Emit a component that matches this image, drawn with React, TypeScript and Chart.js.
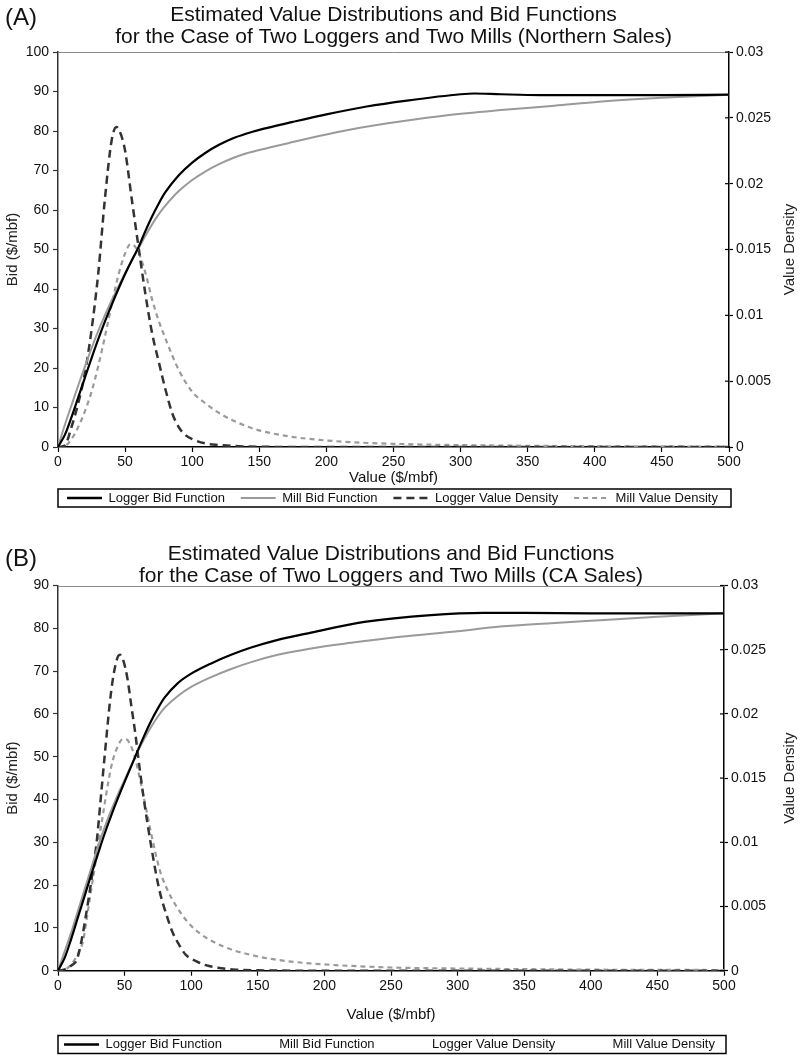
import React, { useEffect, useRef } from "react";
import { Chart, registerables } from "chart.js";
Chart.register(...registerables);

const FONT = "'Liberation Sans', Arial, Helvetica, sans-serif";

// ---------- Panel A (Northern Sales) ----------
const A_TITLE = [
  "Estimated Value Distributions and Bid Functions",
  "for the Case of Two Loggers and Two Mills (Northern Sales)",
];
const A_LOGGER_BID_X = [0, 5, 10, 15, 20, 25, 30, 35, 40, 45, 50, 55, 60, 65, 70, 75, 80, 90, 100, 110, 120, 130, 140, 150, 175, 200, 230, 260, 300, 310, 330, 360, 400, 450, 500];
const A_LOGGER_BID_Y = [0, 3, 7.5, 12.5, 17.5, 22.5, 27.3, 31.8, 36, 40, 43.8, 47.3, 50.6, 54.6, 58.3, 61.6, 64.5, 68.8, 72, 74.5, 76.5, 78.1, 79.3, 80.3, 82.3, 84.2, 86.2, 87.7, 89.3, 89.5, 89.3, 89.1, 89.1, 89.1, 89.2];
const A_MILL_BID_X = [0, 5, 10, 15, 20, 25, 30, 35, 40, 45, 50, 55, 60, 65, 70, 75, 80, 90, 100, 110, 120, 130, 140, 150, 175, 200, 225, 255, 290, 330, 370, 403, 450, 500];
const A_MILL_BID_Y = [0, 5.5, 10.5, 15.5, 20.3, 25, 29.4, 33.4, 37.1, 40.6, 44, 47.2, 50.3, 53.4, 56.3, 58.9, 61.1, 64.8, 67.6, 69.8, 71.6, 73.1, 74.3, 75.2, 77.2, 79.1, 80.8, 82.4, 84, 85.3, 86.4, 87.4, 88.4, 89.2];
const A_LOGGER_DEN_X = [0, 5, 10, 15, 20, 25, 30, 35, 40, 43.5, 47, 50, 55, 60, 65, 70, 75, 80, 85, 90, 95, 100, 110, 120, 130, 150, 200, 300, 400, 500];
const A_LOGGER_DEN_Y = [0, 0.0001, 0.0015, 0.0033, 0.0056, 0.0089, 0.0132, 0.0189, 0.0233, 0.0243, 0.0237, 0.0225, 0.0188, 0.0152, 0.0117, 0.0087, 0.0065, 0.0044, 0.0026, 0.0015, 0.0009, 0.0006, 0.00027, 0.00015, 0.00008, 0.00002, 0, 0, 0, 0];
const A_MILL_DEN_X = [0, 5, 10, 15, 20, 25, 30, 35, 40, 45, 50, 54, 58, 62, 66, 70, 75, 80, 90, 100, 110, 120, 130, 145, 170, 195, 220, 245, 295, 350, 400, 450, 500];
const A_MILL_DEN_Y = [0, 0.00006, 0.0006, 0.0015, 0.0027, 0.0042, 0.00615, 0.0084, 0.0108, 0.01305, 0.0147, 0.0154, 0.01515, 0.01425, 0.0129, 0.01125, 0.0096, 0.00825, 0.00585, 0.0042, 0.0033, 0.00258, 0.00204, 0.00141, 0.00084, 0.00054, 0.00036, 0.000255, 0.00015, 0.00009, 0.00006, 0.000045, 0.00003];

// ---------- Panel B (CA Sales) ----------
const B_TITLE = [
  "Estimated Value Distributions and Bid Functions",
  "for the Case of Two Loggers and Two Mills (CA Sales)",
];
const B_LOGGER_BID_X = [0, 5, 10, 15, 20, 25, 30, 35, 40, 45, 50, 55, 60, 65, 70, 75, 80, 90, 100, 115, 130, 145, 165, 190, 230, 280, 320, 350, 400, 450, 500];
const B_LOGGER_BID_Y = [0, 3, 7.5, 12.5, 17.5, 22.5, 27.3, 32, 36.3, 40.3, 44.1, 47.8, 51.5, 55.1, 58.4, 61.3, 63.8, 67.2, 69.4, 71.8, 73.8, 75.5, 77.3, 79, 81.5, 83.1, 83.6, 83.6, 83.5, 83.5, 83.5];
const B_MILL_BID_X = [0, 5, 10, 15, 20, 25, 30, 35, 40, 45, 50, 55, 60, 65, 70, 75, 80, 90, 100, 115, 130, 145, 165, 190, 220, 257, 300, 332, 370, 407, 450, 500];
const B_MILL_BID_Y = [0, 4.5, 9, 14, 19, 24, 29, 33.5, 37.5, 41.2, 44.6, 48, 51.3, 54.3, 57, 59.4, 61.4, 64.2, 66.3, 68.6, 70.5, 72.1, 73.8, 75.3, 76.6, 78, 79.3, 80.4, 81.2, 81.9, 82.7, 83.5];
const B_LOGGER_DEN_X = [0, 5, 10, 14, 17, 21, 25, 29, 32, 35, 40, 44, 46.5, 49, 52, 55, 58, 61, 64, 70, 76, 82, 86, 91, 96, 104, 111, 120, 131, 150, 200, 300, 400, 500];
const B_LOGGER_DEN_Y = [0, 0.0001, 0.0004, 0.00083, 0.002, 0.00433, 0.007, 0.01, 0.0133, 0.0167, 0.02183, 0.02417, 0.0246, 0.02417, 0.02283, 0.02067, 0.0185, 0.016, 0.01367, 0.00967, 0.00633, 0.00417, 0.003, 0.002, 0.00123, 0.00073, 0.00043, 0.00023, 0.0001, 0.00003, 0, 0, 0, 0];
const B_MILL_DEN_X = [0, 5, 10, 15, 19, 22, 26, 30, 34, 38, 41, 45, 48, 51, 54, 57.6, 61, 66.4, 71, 76.4, 82, 89, 97, 106.5, 118, 131.5, 145, 156.6, 170, 189, 220, 250, 300, 350, 400, 450, 500];
const B_MILL_DEN_Y = [0, 0.00007, 0.0005, 0.00133, 0.0024, 0.00433, 0.007, 0.00967, 0.01233, 0.01483, 0.01633, 0.0175, 0.018, 0.01803, 0.01767, 0.01667, 0.01517, 0.0125, 0.01017, 0.00783, 0.00633, 0.005, 0.00383, 0.0029, 0.00217, 0.0016, 0.00123, 0.00097, 0.00077, 0.00057, 0.00037, 0.00025, 0.00017, 0.00012, 0.00008, 0.00007, 0.00005];

const SERIES_LABELS = ["Logger Bid Function", "Mill Bid Function", "Logger Value Density", "Mill Value Density"];
const X_AXIS_TITLE = "Value ($/mbf)";
const Y_AXIS_TITLE = "Bid ($/mbf)";
const Y1_AXIS_TITLE = "Value Density";

const LEGEND_FONT = 13;

type Spec = {
  letter: string;
  title: string[];
  lbx: number[]; lby: number[];
  mbx: number[]; mby: number[];
  ldx: number[]; ldy: number[];
  mdx: number[]; mdy: number[];
  yMax: number;
  top: number; height: number;
  areaTop: number; rightW: number; padRight: number; xH: number; padBottom: number;
  xTitlePad: number;
  letterY: number; titleY: number[];
  hideSamples: boolean;
};

const SPEC_A: Spec = {
  letter: "(A)", title: A_TITLE,
  lbx: A_LOGGER_BID_X, lby: A_LOGGER_BID_Y, mbx: A_MILL_BID_X, mby: A_MILL_BID_Y,
  ldx: A_LOGGER_DEN_X, ldy: A_LOGGER_DEN_Y, mdx: A_MILL_DEN_X, mdy: A_MILL_DEN_Y,
  yMax: 100, top: 0, height: 530,
  areaTop: 52, rightW: 56, padRight: 16, xH: 39.5, padBottom: 15.5, xTitlePad: 0,
  letterY: 18, titleY: [15, 37], hideSamples: false,
};
const SPEC_B: Spec = {
  letter: "(B)", title: B_TITLE,
  lbx: B_LOGGER_BID_X, lby: B_LOGGER_BID_Y, mbx: B_MILL_BID_X, mby: B_MILL_BID_Y,
  ldx: B_LOGGER_DEN_X, ldy: B_LOGGER_DEN_Y, mdx: B_MILL_DEN_X, mdy: B_MILL_DEN_Y,
  yMax: 90, top: 527, height: 534,
  areaTop: 58.5, rightW: 55, padRight: 22, xH: 62.3, padBottom: 0, xTitlePad: 9.5,
  letterY: 32, titleY: [27, 49], hideSamples: true,
};

const pts = (xs: number[], ys: number[]) => xs.map((x, i) => ({ x, y: ys[i] }));

function decoPlugin(s: Spec) {
  return {
    id: "deco",
    afterDraw(chart: any) {
      const { ctx, chartArea: ca } = chart;
      ctx.save();
      // top frame line
      ctx.strokeStyle = "#8a8a8a";
      ctx.lineWidth = 1;
      ctx.beginPath();
      ctx.moveTo(ca.left, Math.round(ca.top) + 0.5);
      ctx.lineTo(ca.right, Math.round(ca.top) + 0.5);
      ctx.stroke();
      // inner ticks on right axis
      const y1 = chart.scales.y1;
      ctx.strokeStyle = "#000";
      ctx.lineWidth = 1.2;
      y1.ticks.forEach((t: any) => {
        const py = y1.getPixelForValue(t.value);
        ctx.beginPath();
        ctx.moveTo(ca.right - 4, py);
        ctx.lineTo(ca.right, py);
        ctx.stroke();
      });
      // panel letter
      ctx.fillStyle = "#111";
      ctx.textBaseline = "middle";
      ctx.textAlign = "left";
      ctx.font = `24px ${FONT}`;
      ctx.fillText(s.letter, 5, s.letterY);
      // title
      ctx.textAlign = "center";
      ctx.font = `21px ${FONT}`;
      const cx = (ca.left + ca.right) / 2;
      s.title.forEach((line, i) => ctx.fillText(line, cx, s.titleY[i]));
      // right axis title, reading bottom-to-top
      ctx.save();
      ctx.translate(790, (ca.top + ca.bottom) / 2);
      ctx.rotate(-Math.PI / 2);
      ctx.font = `15px ${FONT}`;
      ctx.fillStyle = "#222";
      ctx.fillText(Y1_AXIS_TITLE, 0, 0);
      ctx.restore();
      // legend frame
      const lg = chart.legend;
      const cy = lg.top + lg.options.labels.padding + LEGEND_FONT / 2;
      ctx.strokeStyle = "#000";
      ctx.lineWidth = 1.5;
      ctx.strokeRect(ca.left, cy - 9, ca.right + 2 - ca.left, 18);
      ctx.restore();
    },
  };
}

function buildConfig(s: Spec): any {
  const common = { pointRadius: 0, pointHoverRadius: 0, pointStyle: "line", cubicInterpolationMode: "monotone", fill: false };
  return {
    type: "line",
    data: {
      datasets: [
        { ...common, label: SERIES_LABELS[0], data: pts(s.lbx, s.lby), yAxisID: "y", borderColor: "#000", backgroundColor: "#000", borderWidth: 2.2 },
        { ...common, label: SERIES_LABELS[1], data: pts(s.mbx, s.mby), yAxisID: "y", borderColor: "#9a9a9a", backgroundColor: "#9a9a9a", borderWidth: 2 },
        { ...common, label: SERIES_LABELS[2], data: pts(s.ldx, s.ldy), yAxisID: "y1", borderColor: "#333", backgroundColor: "#333", borderWidth: 2.5, borderDash: [8, 5] },
        { ...common, label: SERIES_LABELS[3], data: pts(s.mdx, s.mdy), yAxisID: "y1", borderColor: "#9a9a9a", backgroundColor: "#9a9a9a", borderWidth: 2.2, borderDash: [5, 4] },
      ],
    },
    options: {
      responsive: false,
      animation: false,
      devicePixelRatio: 1,
      events: [],
      layout: { padding: { top: s.areaTop, left: 0, right: s.padRight, bottom: s.padBottom } },
      plugins: {
        title: { display: false },
        tooltip: { enabled: false },
        legend: {
          display: true,
          position: "bottom",
          labels: {
            font: { family: FONT, size: LEGEND_FONT },
            color: "#111",
            padding: 5,
            usePointStyle: true,
            pointStyleWidth: 35,
            generateLabels: (chart: any) => {
              const items = Chart.defaults.plugins.legend.labels.generateLabels(chart);
              return items.map((it: any, i: number) => {
                const ds = chart.data.datasets[i];
                const hidden = s.hideSamples && i > 0;
                return {
                  ...it,
                  text: i < items.length - 1 ? it.text + "   " : it.text,
                  strokeStyle: hidden ? "rgba(0,0,0,0)" : ds.borderColor,
                  fillStyle: hidden ? "rgba(0,0,0,0)" : ds.borderColor,
                  lineWidth: i === 0 ? 2.4 : ds.borderWidth,
                  lineDash: ds.borderDash || [],
                  lineCap: "butt",
                };
              });
            },
          },
        },
      },
      scales: {
        x: {
          type: "linear",
          min: 0, max: 500,
          ticks: { stepSize: 50, autoSkip: false, maxRotation: 0, padding: 2, color: "#111", font: { family: FONT, size: 14 } },
          grid: { drawOnChartArea: false, tickLength: 5, color: "#000", tickWidth: 1.2 },
          border: { color: "#000", width: 1.5 },
          title: { display: true, text: X_AXIS_TITLE, color: "#111", font: { family: FONT, size: 15 }, padding: { top: 0, bottom: s.xTitlePad } },
          afterFit: (sc: any) => { sc.height = s.xH; },
        },
        y: {
          type: "linear", position: "left",
          min: 0, max: s.yMax,
          ticks: { stepSize: 10, padding: 4, color: "#111", font: { family: FONT, size: 14 } },
          grid: { drawOnChartArea: false, tickLength: 5, color: "#333", tickWidth: 1.2 },
          border: { color: "#333", width: 1.5 },
          title: { display: true, text: Y_AXIS_TITLE, color: "#222", font: { family: FONT, size: 15 }, padding: { top: 4, bottom: 0 } },
          afterFit: (sc: any) => { sc.width = 58; },
        },
        y1: {
          type: "linear", position: "right",
          min: 0, max: 0.03,
          ticks: { stepSize: 0.005, padding: 3, color: "#111", font: { family: FONT, size: 14 }, callback: (v: any) => String(+Number(v).toFixed(3)) },
          grid: { drawOnChartArea: false, tickLength: 4, color: "#000", tickWidth: 1.2 },
          border: { color: "#000", width: 1.5 },
          title: { display: false },
          afterFit: (sc: any) => { sc.width = s.rightW; },
        },
      },
    },
    plugins: [decoPlugin(s)],
  };
}

function Panel({ spec }: { spec: Spec }) {
  const ref = useRef<HTMLCanvasElement | null>(null);
  useEffect(() => {
    const chart = new Chart(ref.current as HTMLCanvasElement, buildConfig(spec));
    return () => chart.destroy();
  }, [spec]);
  return (
    <canvas
      ref={ref}
      width={801}
      height={spec.height}
      style={{ position: "absolute", left: 0, top: spec.top, width: 801, height: spec.height }}
    />
  );
}

export default function App() {
  return (
    <div style={{ position: "absolute", left: 0, top: 0, width: 801, height: 1055, overflow: "hidden", background: "#fff" }}>
      <Panel spec={SPEC_A} />
      <Panel spec={SPEC_B} />
    </div>
  );
}
